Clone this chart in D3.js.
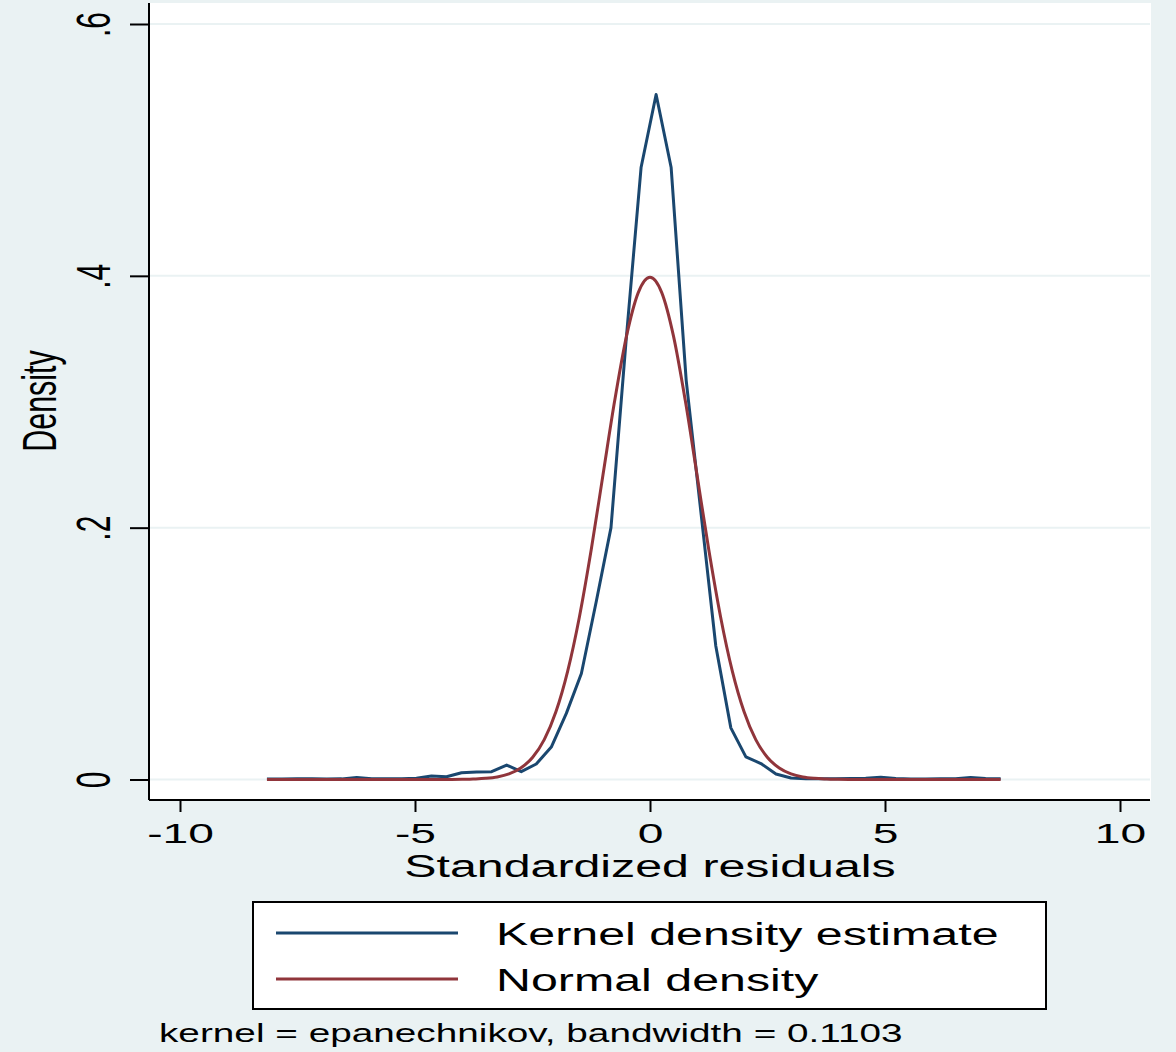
<!DOCTYPE html>
<html>
<body style="margin: 0">
  <script src="https://d3js.org/d3.v7.min.js"></script>

  <script>
    // kernel density estimate (epanechnikov)
    const kdeX = [-8.15, -7.83, -7.51, -7.19, -6.88, -6.56, -6.24, -5.92, -5.60, -5.28,
      -4.97, -4.65, -4.33, -4.01, -3.69, -3.37, -3.05, -2.74, -2.42, -2.10,
      -1.78, -1.46, -1.14, -0.83, -0.51, -0.19, 0.13, 0.45, 0.77, 1.09,
      1.40, 1.72, 2.04, 2.36, 2.68, 3.00, 3.32, 3.63, 3.95, 4.27,
      4.59, 4.91, 5.23, 5.55, 5.86, 6.18, 6.50, 6.82, 7.14, 7.46];
    const kdeY = [0.0003, 0.0004, 0.0005, 0.0005, 0.0004, 0.0005, 0.0015, 0.0006, 0.0005, 0.0006,
      0.0010, 0.0028, 0.0022, 0.0054, 0.0060, 0.0062, 0.0115, 0.0062, 0.0123, 0.0258,
      0.0525, 0.0842, 0.142, 0.200, 0.348, 0.486, 0.544, 0.486, 0.317, 0.210,
      0.106, 0.041, 0.018, 0.0127, 0.0044, 0.0012, 0.0005, 0.0005, 0.0005, 0.0008,
      0.0010, 0.0018, 0.0008, 0.0003, 0.0003, 0.0005, 0.0006, 0.0015, 0.0008, 0.0005];

    // normal density overlay
    const normX = [-8.15, -5, -4.5, -4, -3.75, -3.5, -3.25, -3, -2.75, -2.5, -2.25, -2, -1.75,
      -1.5, -1.25, -1, -0.75, -0.5, -0.25, 0, 0.25, 0.5, 0.75, 1, 1.25, 1.5,
      1.75, 2, 2.25, 2.5, 2.75, 3, 3.25, 3.5, 3.75, 4, 4.5, 5, 7.46];
    const normY = [0, 0, 0.00002, 0.0001, 0.0004, 0.0009, 0.0020, 0.0044, 0.0091, 0.0175, 0.0317, 0.0540, 0.0863,
      0.1295, 0.1826, 0.2420, 0.3011, 0.3521, 0.3867, 0.3989, 0.3867, 0.3521, 0.3011, 0.2420, 0.1826, 0.1295,
      0.0863, 0.0540, 0.0317, 0.0175, 0.0091, 0.0044, 0.0020, 0.0009, 0.0004, 0.0001, 0.00002, 0, 0];

    const xTicks = [-10, -5, 0, 5, 10];
    const yTicks = [0, 0.2, 0.4, 0.6];
    const yTickLabels = ["0", ".2", ".4", ".6"];

    const seriesNames = ["Kernel density estimate", "Normal density"];
    const seriesColors = ["#1a476f", "#90353b"];
    const noteText = "kernel = epanechnikov, bandwidth = 0.1103";

    const BG = "#eaf2f3";
    const FONT = "'Liberation Sans', Arial, sans-serif";

    const start = () => {
      const width = 1176;
      const height = 1052;
      const plot = {left: 149, right: 1151, top: 3, bottom: 800};

      const svg = d3.select("body").append("svg")
        .attr("width", width)
        .attr("height", height)
        .style("display", "block");

      svg.append("rect")
        .attr("width", width)
        .attr("height", height)
        .attr("fill", BG);

      svg.append("rect")
        .attr("x", plot.left)
        .attr("y", plot.top)
        .attr("width", plot.right - plot.left)
        .attr("height", plot.bottom - plot.top)
        .attr("fill", "white");

      const x = d3.scaleLinear().domain([-10, 10]).range([180, 1120]);
      const y = d3.scaleLinear().domain([0, 0.6]).range([779.5, 24]);

      // grid
      svg.append("g").selectAll("line")
        .data(yTicks)
        .enter()
        .append("line")
        .attr("x1", plot.left)
        .attr("x2", plot.right - 1)
        .attr("y1", (d) => {return y(d);})
        .attr("y2", (d) => {return y(d);})
        .style("stroke", BG)
        .style("stroke-width", 2);

      // curves
      const kde = kdeX.map((v, i) => [v, kdeY[i]]);
      const norm = normX.map((v, i) => [v, normY[i]]);

      svg.append("path")
        .datum(kde)
        .attr("d", d3.line().x((d) => x(d[0])).y((d) => y(d[1])))
        .style("fill", "none")
        .style("stroke", seriesColors[0])
        .style("stroke-width", 3)
        .style("stroke-linejoin", "round");

      svg.append("path")
        .datum(norm)
        .attr("d", d3.line().curve(d3.curveMonotoneX).x((d) => x(d[0])).y((d) => y(d[1])))
        .style("fill", "none")
        .style("stroke", seriesColors[1])
        .style("stroke-width", 3)
        .style("stroke-linejoin", "round");

      // y axis
      const yAxis = svg.append("g")
        .attr("transform", `translate(${plot.left},0)`)
        .call(d3.axisLeft(y).tickValues(yTicks).tickSize(19)
          .tickFormat((d, i) => yTickLabels[i]));
      yAxis.select(".domain")
        .attr("d", `M0,${plot.top}V${plot.bottom}`)
        .style("stroke", "black")
        .style("stroke-width", 2);
      yAxis.selectAll(".tick line").style("stroke", "black").style("stroke-width", 2);
      yAxis.selectAll(".tick text")
        .attr("x", null).attr("dy", null)
        .attr("transform", "translate(-39,0) scale(1.6,1) rotate(-90)")
        .attr("text-anchor", "middle")
        .style("font-family", FONT)
        .style("font-size", "30px")
        .style("fill", "black");

      // x axis
      const xAxis = svg.append("g")
        .attr("transform", `translate(0,${plot.bottom})`)
        .call(d3.axisBottom(x).tickValues(xTicks).tickSize(12).tickFormat(d3.format("d")));
      xAxis.select(".domain")
        .attr("d", `M${plot.left},0H${plot.right - 1}`)
        .style("stroke", "black")
        .style("stroke-width", 2);
      xAxis.selectAll(".tick line").style("stroke", "black").style("stroke-width", 2);
      xAxis.selectAll(".tick text")
        .attr("y", null).attr("dy", null)
        .attr("transform", "translate(0,43) scale(1.65,1)")
        .attr("text-anchor", "middle")
        .style("font-family", FONT)
        .style("font-size", "28px")
        .style("fill", "black")
        .text((d) => d < 0 ? "-" + Math.abs(d) : d);

      // axis titles
      svg.append("text")
        .attr("transform", "translate(650,877) scale(1.51,1)")
        .attr("text-anchor", "middle")
        .style("font-family", FONT)
        .style("font-size", "32px")
        .text("Standardized residuals");

      svg.append("text")
        .attr("transform", "translate(56,401) scale(1.55,1) rotate(-90)")
        .attr("text-anchor", "middle")
        .style("font-family", FONT)
        .style("font-size", "30.5px")
        .text("Density");

      // legend
      const legend = svg.append("g");
      legend.append("rect")
        .attr("x", 253)
        .attr("y", 902)
        .attr("width", 793)
        .attr("height", 107)
        .style("fill", "white")
        .style("stroke", "black")
        .style("stroke-width", 2);

      const rows = legend.selectAll("g.row")
        .data(seriesNames)
        .enter()
        .append("g")
        .attr("class", "row")
        .attr("transform", (d, i) => `translate(0,${933 + i * 46})`);

      rows.append("line")
        .attr("x1", 276)
        .attr("x2", 458)
        .style("stroke", (d, i) => seriesColors[i])
        .style("stroke-width", 3);

      rows.append("text")
        .attr("transform", "translate(496,12) scale(1.56,1)")
        .style("font-family", FONT)
        .style("font-size", "31px")
        .text((d) => d);

      // note
      svg.append("text")
        .attr("transform", "translate(159,1042) scale(1.49,1)")
        .style("font-family", FONT)
        .style("font-size", "26px")
        .text(noteText);
    };

    document.addEventListener("DOMContentLoaded", () => {
      start();
    }, false);
  </script>
</body>
</html>
